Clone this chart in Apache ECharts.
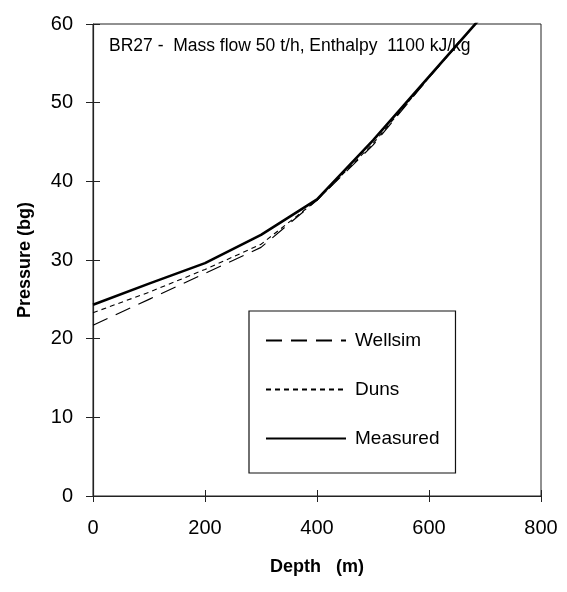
<!DOCTYPE html>
<html>
<head>
<meta charset="utf-8">
<script src="https://cdn.jsdelivr.net/npm/echarts@6/dist/echarts.min.js"></script>
<style>
  html, body { margin: 0; padding: 0; background: #fff; }
  #main { width: 567px; height: 592px; }
</style>
</head>
<body>
<div id="main"></div>
<script>
// depth (m) readings
var depth = [0, 100, 200, 300, 400, 500, 600, 700];
// pressure (bg)
var wellsim = [21.7, 25.0, 28.3, 31.6, 37.6, 44.6, 53.2, 61.4];
var duns = [23.3, 25.9, 28.8, 32.0, 37.6, 44.8, 53.2, 61.4];
var measured = [24.3, 27.0, 29.6, 33.2, 37.7, 45.2, 53.3, 61.4];
var xTicks = [0, 200, 400, 600, 800];
var yTicks = [0, 10, 20, 30, 40, 50, 60];

function pairs(xs, ys) {
  return xs.map(function (x, i) { return [x, ys[i]]; });
}

var chart = echarts.init(document.getElementById('main'));
var fnt = 'Liberation Sans, Arial, sans-serif';

var option = {
  backgroundColor: '#fff',
  animation: false,
  textStyle: { fontFamily: fnt, color: '#000' },
  title: {
    text: 'BR27 -  Mass flow 50 t/h, Enthalpy  1100 kJ/kg',
    left: 104,
    top: 32,
    textStyle: { fontSize: 17.5, fontWeight: 'normal', color: '#000', fontFamily: fnt }
  },
  grid: {
    left: 93, right: 26, top: 24, bottom: 96,
    show: true, borderColor: '#222', borderWidth: 1
  },
  legend: {
    orient: 'vertical',
    left: 249,
    top: 311,
    padding: [20, 16, 25, 16],
    itemWidth: 80,
    itemHeight: 18,
    itemGap: 30,
    borderColor: '#111',
    borderWidth: 1.2,
    itemStyle: { opacity: 0 },
    textStyle: { fontSize: 19, color: '#000', fontFamily: fnt, padding: [0, 0, 0, 4] },
    data: ['Wellsim', 'Duns', 'Measured']
  },
  xAxis: [{
    type: 'value',
    min: 0, max: 800, interval: 200,
    name: 'Depth   (m)',
    nameLocation: 'middle',
    nameGap: 62,
    nameTextStyle: { fontSize: 18, fontWeight: 'bold', color: '#000' },
    axisLine: { lineStyle: { color: '#222', width: 1 } },
    axisTick: { inside: false, length: 6, lineStyle: { color: '#222' } },
    axisLabel: { fontSize: 20, color: '#000', margin: 22 },
    splitLine: { show: false }
  }, {
    type: 'value',
    position: 'bottom',
    min: 0, max: 800, interval: 200,
    axisLine: { show: false },
    axisTick: { inside: true, length: 6, lineStyle: { color: '#222' } },
    axisLabel: { show: false },
    splitLine: { show: false }
  }],
  yAxis: [{
    type: 'value',
    min: 0, max: 60, interval: 10,
    name: 'Pressure (bg)',
    nameLocation: 'middle',
    nameGap: 59,
    nameTextStyle: { fontSize: 18, fontWeight: 'bold', color: '#000' },
    axisLine: { show: true, lineStyle: { color: '#222', width: 1.2 } },
    axisTick: { show: true, inside: false, length: 7, lineStyle: { color: '#222' } },
    axisLabel: { fontSize: 20, color: '#000', margin: 20 },
    splitLine: { show: false }
  }, {
    type: 'value',
    position: 'left',
    min: 0, max: 60, interval: 10,
    axisLine: { show: false },
    axisTick: { show: true, inside: true, length: 7, lineStyle: { color: '#222' } },
    axisLabel: { show: false },
    splitLine: { show: false }
  }],
  series: [{
    name: 'Wellsim',
    type: 'line',
    data: pairs(depth, wellsim),
    symbol: 'none',
    lineStyle: { color: '#000', width: 1.2, type: [16, 9] },
    itemStyle: { color: '#000' }
  }, {
    name: 'Duns',
    type: 'line',
    data: pairs(depth, duns),
    symbol: 'none',
    lineStyle: { color: '#000', width: 1.1, type: [5, 4] },
    itemStyle: { color: '#000' }
  }, {
    name: 'Measured',
    type: 'line',
    data: pairs(depth, measured),
    symbol: 'none',
    lineStyle: { color: '#000', width: 2.6 },
    itemStyle: { color: '#000' }
  }]
};

chart.setOption(option);
</script>
</body>
</html>
